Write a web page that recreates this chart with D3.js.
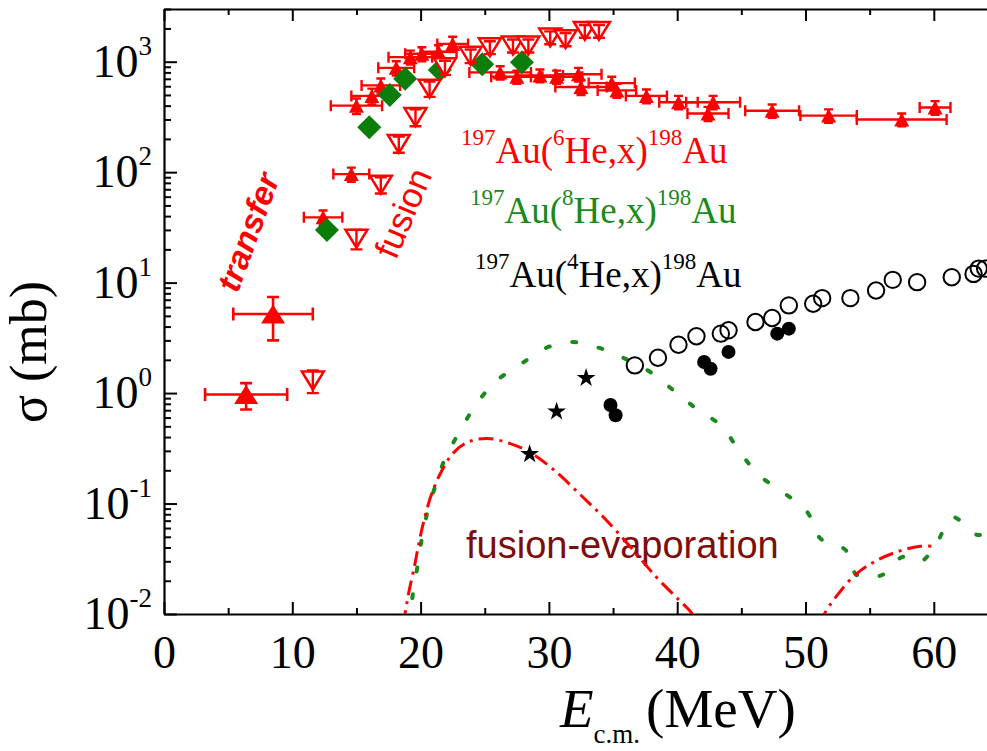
<!DOCTYPE html>
<html>
<head>
<meta charset="utf-8">
<script src="https://cdn.jsdelivr.net/npm/d3@7"></script>
<style>
  body { margin: 0; background: #fff; }
  svg { display: block; }
</style>
</head>
<body>
<svg id="chart" width="987" height="751"></svg>
<script>
// ---- data -------------------------------------------------------------
// 197Au(6He,x)198Au transfer, low energies: [E_cm (MeV), sigma (mb), dE, dSigma]
const he6TransferLow = [
  [6.4, 0.97, 3.2, 0.26],
  [8.5, 5.2, 3.1, 2.2]
];
// 197Au(6He,x)198Au transfer: [E_cm, sigma, dE, dSigma]
const he6Transfer = [
  [12.4, 39, 1.5, 6], [14.6, 96, 1.4, 14], [15.0, 400, 2.0, 65],
  [16.2, 490, 1.6, 80], [16.9, 610, 1.5, 95], [18.1, 880, 1.4, 130],
  [19.2, 1100, 1.7, 160], [20.1, 1180, 1.3, 170], [21.4, 1230, 1.4, 180],
  [22.5, 1450, 1.2, 230], [26.2, 800, 2.4, 110], [27.5, 730, 2.0, 100],
  [29.3, 750, 1.8, 100], [30.6, 730, 2.0, 100], [32.3, 770, 1.8, 110],
  [32.5, 590, 2.0, 90], [34.9, 640, 1.8, 90], [35.3, 550, 1.5, 80],
  [37.6, 490, 1.6, 70], [40.1, 430, 1.5, 60], [42.4, 340, 1.6, 50],
  [42.8, 430, 2.1, 60], [47.4, 360, 2.1, 50], [51.8, 325, 2.2, 45],
  [57.5, 300, 3.5, 40], [60.1, 385, 1.2, 55]
];
// 197Au(6He,x)198Au fusion: [E_cm, sigma, dSigma]
const he6Fusion = [
  [11.6, 1.3, 0.3], [15.0, 25, 5], [16.9, 77, 13], [18.3, 180, 30],
  [19.6, 315, 55], [20.7, 570, 90], [21.9, 890, 130], [23.9, 1130, 160],
  [25.4, 1350, 180], [27.2, 1400, 190], [28.4, 1400, 190], [30.1, 1660, 220],
  [31.3, 1600, 220], [32.8, 1900, 250], [33.9, 1900, 250]
];
// 197Au(8He,x)198Au: [E_cm, sigma]
const he8 = [
  [12.7, 30], [16.0, 255], [17.6, 500], [18.8, 700],
  [21.5, 840], [24.8, 950], [27.9, 990]
];
// 197Au(4He,x)198Au, three data sets: [E_cm, sigma]
const he4Open = [
  [36.7, 1.78], [38.5, 2.09], [40.1, 2.74], [41.5, 3.27], [43.4, 3.45],
  [44.0, 3.70], [46.1, 4.40], [47.4, 4.78], [48.7, 6.22], [50.6, 6.44],
  [51.3, 7.24], [53.5, 7.24], [55.5, 8.49], [56.8, 10.6], [58.7, 10.1],
  [61.4, 11.2], [63.1, 12.0], [63.5, 13.4], [64.0, 13.4]
];
const he4Filled = [
  [34.8, 0.78], [35.2, 0.63], [42.1, 1.91], [42.6, 1.66],
  [44.0, 2.36], [47.8, 3.45], [48.7, 3.83]
];
const he4Stars = [[28.5, 0.28], [30.6, 0.68], [32.9, 1.37]];
// fusion-evaporation calculations: [E_cm, sigma]
const calcHe8 = [
  [19.0, 0.008], [19.2, 0.0105], [19.46, 0.017], [19.82, 0.0297], [20.12, 0.05],
  [20.57, 0.087], [21.17, 0.147], [21.91, 0.256], [22.95, 0.43], [24.3, 0.78],
  [25.8, 1.26], [27.88, 1.85], [29.83, 2.58], [31.9, 2.9], [33.85, 2.58],
  [35.93, 2.05], [38.01, 1.52], [39.96, 1.0], [41.52, 0.72], [43.47, 0.5],
  [44.91, 0.29], [46.4, 0.18], [48.19, 0.128], [50.13, 0.084], [51.18, 0.048],
  [53.12, 0.038], [54.01, 0.0225], [55.95, 0.0225], [57.6, 0.033],
  [58.94, 0.0297], [60.14, 0.042], [61.48, 0.075], [63.42, 0.052], [65.0, 0.06]
];
const calcHe6Low = [
  [18.6, 0.008], [18.78, 0.0100], [19.07, 0.0155], [19.52, 0.027], [19.82, 0.041],
  [20.27, 0.071], [20.87, 0.123], [21.61, 0.194], [22.51, 0.284], [23.7, 0.361],
  [25.2, 0.388], [26.99, 0.349], [28.48, 0.293], [30.27, 0.207], [32.36, 0.123],
  [34.46, 0.071], [36.55, 0.038], [38.34, 0.0218], [40.13, 0.0134], [41.18, 0.010],
  [41.5, 0.008]
];
const calcHe6High = [
  [51.2, 0.008], [51.47, 0.010], [52.37, 0.0143], [53.86, 0.0225],
  [55.36, 0.0297], [57.15, 0.0366], [58.94, 0.041], [59.98, 0.041]
];
// axis ticks
const xMajorTicks = [0, 10, 20, 30, 40, 50, 60];
const xMinorTicks = [5, 15, 25, 35, 45, 55, 65];
const yMajorTicks = [1e-2, 1e-1, 1e0, 1e1, 1e2, 1e3];
const yExponents = ["-2", "-1", "0", "1", "2", "3"];

// ---- layout -----------------------------------------------------------
const svg = d3.select("#chart");
const plotLeft = 164, plotTop = 9, plotBottom = 614, pxPerMeV = 12.83;
const xMax = 65;
const x = d3.scaleLinear().domain([0, xMax]).range([plotLeft, plotLeft + xMax * pxPerMeV]);
const y = d3.scaleLog().domain([0.01, 3000]).range([plotBottom, plotTop]);
const plotRight = x(xMax);

const RED = "#ff0000", GREEN = "#0b7d0b", GREEN_TXT = "#1a8a1a", MAROON = "#7d0d0d";
const serif = "'Liberation Serif', 'Times New Roman', serif";
const sans = "'Liberation Sans', Arial, sans-serif";

svg.append("defs").append("clipPath").attr("id", "plotClip")
  .append("rect").attr("x", plotLeft).attr("y", plotTop)
  .attr("width", plotRight - plotLeft).attr("height", plotBottom - plotTop);

// y minor ticks (2..9 per decade)
const yMinorTicks = [];
for (let e = -2; e <= 3; e++) for (let m = 2; m <= 9; m++) {
  const v = m * Math.pow(10, e);
  if (v <= 3000) yMinorTicks.push(v);
}

// ---- axes -------------------------------------------------------------
function styleAxis(g) {
  g.selectAll("path.domain").attr("stroke", "#000").attr("stroke-width", 2.2);
  g.selectAll(".tick line").attr("stroke", "#000").attr("stroke-width", 2);
}
// bottom
svg.append("g").attr("transform", `translate(0,${plotBottom})`)
  .call(d3.axisBottom(x).tickValues(xMinorTicks).tickSizeInner(-6).tickSizeOuter(0).tickFormat(""))
  .call(g => g.select("path.domain").remove()).call(styleAxis);
svg.append("g").attr("transform", `translate(0,${plotBottom})`)
  .call(d3.axisBottom(x).tickValues(xMajorTicks).tickSizeInner(-12).tickSizeOuter(0).tickPadding(21))
  .call(styleAxis)
  .call(g => g.selectAll(".tick text").attr("font-family", serif).attr("font-size", 46).attr("fill", "#000"));
// top
svg.append("g").attr("transform", `translate(0,${plotTop})`)
  .call(d3.axisTop(x).tickValues(xMinorTicks).tickSizeInner(-6).tickSizeOuter(0).tickFormat(""))
  .call(g => g.select("path.domain").remove()).call(styleAxis);
svg.append("g").attr("transform", `translate(0,${plotTop})`)
  .call(d3.axisTop(x).tickValues(xMajorTicks).tickSizeInner(-12).tickSizeOuter(0).tickFormat(""))
  .call(styleAxis);
// left
svg.append("g").attr("transform", `translate(${plotLeft},0)`)
  .call(d3.axisLeft(y).tickValues(yMinorTicks).tickSizeInner(-7).tickSizeOuter(0).tickFormat(""))
  .call(g => g.select("path.domain").remove()).call(styleAxis);
svg.append("g").attr("transform", `translate(${plotLeft},0)`)
  .call(d3.axisLeft(y).tickValues(yMajorTicks).tickSizeInner(-13).tickSizeOuter(0).tickPadding(12).tickFormat(""))
  .call(styleAxis)
  .call(g => g.selectAll(".tick text").each(function (d, i) {
    const t = d3.select(this).attr("font-family", serif).attr("font-size", 46).attr("fill", "#000");
    t.append("tspan").text("10");
    t.append("tspan").attr("font-size", 27).attr("dy", -22).text(yExponents[i]);
  }));

// axis titles
const xt = svg.append("text").attr("font-family", serif).attr("fill", "#000").attr("y", 727);
xt.append("tspan").attr("x", 560).attr("font-style", "italic").attr("font-size", 55).text("E");
xt.append("tspan").attr("font-size", 27).attr("dy", 16).attr("dx", 0).text("c.m.");
xt.append("tspan").attr("font-size", 55).attr("dy", -16).attr("dx", 6).text("(MeV)");
svg.append("text").attr("transform", "translate(46,352) rotate(-90)")
  .attr("text-anchor", "middle").attr("font-family", serif).attr("font-size", 52)
  .attr("fill", "#000").text("σ (mb)");

// ---- in-plot labels ---------------------------------------------------
function reaction(xPos, yPos, color, mass) {
  const t = svg.append("text").attr("x", xPos).attr("y", yPos)
    .attr("font-family", serif).attr("font-size", 37).attr("fill", color);
  t.append("tspan").attr("font-size", 23).attr("dy", -18).text("197");
  t.append("tspan").attr("dy", 18).text("Au(");
  t.append("tspan").attr("font-size", 23).attr("dy", -18).text(mass);
  t.append("tspan").attr("dy", 18).text("He,x)");
  t.append("tspan").attr("font-size", 23).attr("dy", -18).text("198");
  t.append("tspan").attr("dy", 18).text("Au");
}
reaction(461, 163, RED, "6");
reaction(470, 223, GREEN_TXT, "8");
reaction(475, 287, "#000", "4");

svg.append("text").attr("transform", "translate(248,232) rotate(-70)")
  .attr("text-anchor", "middle").attr("dy", "0.35em")
  .attr("font-family", sans).attr("font-weight", "bold").attr("font-style", "italic")
  .attr("font-size", 33).attr("fill", RED).text("transfer");
svg.append("text").attr("transform", "translate(403,213) rotate(-67)")
  .attr("text-anchor", "middle").attr("dy", "0.35em")
  .attr("font-family", sans).attr("font-size", 35).attr("fill", RED).text("fusion");
svg.append("text").attr("x", 466).attr("y", 558)
  .attr("font-family", sans).attr("font-size", 38).attr("fill", MAROON).text("fusion-evaporation");

// ---- calculation curves -----------------------------------------------
const curves = svg.append("g").attr("clip-path", "url(#plotClip)");
const line = d3.line().x(d => x(d[0])).y(d => y(d[1])).curve(d3.curveCatmullRom.alpha(0.5));
curves.append("path").datum(calcHe8).attr("d", line)
  .attr("fill", "none").attr("stroke", GREEN_TXT).attr("stroke-width", 4)
  .attr("stroke-linecap", "round").attr("stroke-dasharray", "4,23");
[calcHe6Low, calcHe6High].forEach(c => curves.append("path").datum(c).attr("d", line)
  .attr("fill", "none").attr("stroke", RED).attr("stroke-width", 3)
  .attr("stroke-dasharray", "15,6,3,6"));

// ---- data markers -----------------------------------------------------
const triUp = (w, h) => `M${-w / 2},${h / 2}L${w / 2},${h / 2}L0,${-h / 2}Z`;
const triDown = (w, h) => `M${-w / 2},${-h / 2}L${w / 2},${-h / 2}L0,${h / 2}Z`;

function errorCross(g, data, capX, capY, sw) {
  data.forEach(d => {
    const cx = x(d[0]), cy = y(d[1]);
    const x0 = x(d[0] - d[2]), x1 = x(d[0] + d[2]);
    const y0 = y(d[1] + d[3]), y1 = y(Math.max(d[1] - d[3], 1e-3));
    const p = `M${x0},${cy}H${x1}M${x0},${cy - capX / 2}V${cy + capX / 2}M${x1},${cy - capX / 2}V${cy + capX / 2}` +
      `M${cx},${y0}V${y1}M${cx - capY / 2},${y0}H${cx + capY / 2}M${cx - capY / 2},${y1}H${cx + capY / 2}`;
    g.append("path").attr("d", p).attr("fill", "none").attr("stroke", RED).attr("stroke-width", sw);
  });
}

const marks = svg.append("g").attr("clip-path", "url(#plotClip)");

// 6He transfer
const gT = marks.append("g");
errorCross(gT, he6TransferLow, 13, 12, 2.6);
errorCross(gT, he6Transfer, 11, 9, 2.4);
gT.selectAll("path.big").data(he6TransferLow).join("path").attr("class", "big")
  .attr("transform", d => `translate(${x(d[0])},${y(d[1])})`)
  .attr("d", triUp(24, 19)).attr("fill", RED);
gT.selectAll("path.small").data(he6Transfer).join("path").attr("class", "small")
  .attr("transform", d => `translate(${x(d[0])},${y(d[1])})`)
  .attr("d", triUp(15, 14)).attr("fill", RED);

// 8He
marks.append("g").selectAll("path").data(he8).join("path")
  .attr("transform", d => `translate(${x(d[0])},${y(d[1])}) rotate(45)`)
  .attr("d", "M-8.5,-8.5H8.5V8.5H-8.5Z").attr("fill", GREEN);

// 6He fusion
const gF = marks.append("g");
he6Fusion.forEach(d => {
  const cx = x(d[0]), cy = y(d[1]);
  gF.append("path").attr("transform", `translate(${cx},${cy})`)
    .attr("d", triDown(22, 18)).attr("fill", "#fff").attr("stroke", RED).attr("stroke-width", 2.5);
  const y0 = y(d[1] + d[2]), y1 = y(d[1] - d[2]);
  gF.append("path").attr("d", `M${cx},${y0}V${y1}M${cx - 6},${y0}H${cx + 6}M${cx - 6},${y1}H${cx + 6}`)
    .attr("fill", "none").attr("stroke", RED).attr("stroke-width", 2.4);
});

// 4He
marks.append("g").selectAll("circle").data(he4Open).join("circle")
  .attr("cx", d => x(d[0])).attr("cy", d => y(d[1])).attr("r", 8.2)
  .attr("fill", "none").attr("stroke", "#000").attr("stroke-width", 2);
marks.append("g").selectAll("circle").data(he4Filled).join("circle")
  .attr("cx", d => x(d[0])).attr("cy", d => y(d[1])).attr("r", 7)
  .attr("fill", "#000");
marks.append("g").selectAll("path").data(he4Stars).join("path")
  .attr("transform", d => `translate(${x(d[0])},${y(d[1])})`)
  .attr("d", d3.symbol(d3.symbolStar, 110)).attr("fill", "#000");
</script>
</body>
</html>
